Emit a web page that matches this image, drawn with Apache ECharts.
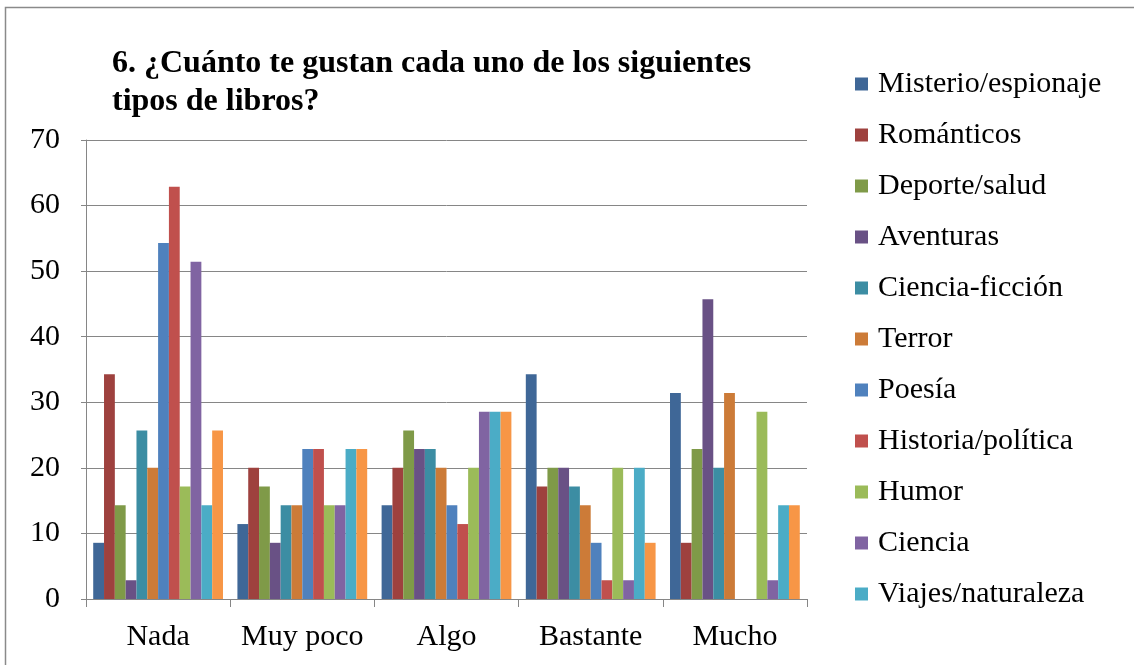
<!DOCTYPE html>
<html>
<head>
<meta charset="utf-8">
<script src="https://cdn.jsdelivr.net/npm/echarts@6/dist/echarts.min.js"></script>
<style>
  html, body { margin: 0; padding: 0; background: #fff; }
  #chart { width: 1134px; height: 665px; }
</style>
</head>
<body>
<div id="chart"></div>
<script>
  // categorías del eje X
  var categorias = ['Nada', 'Muy poco', 'Algo', 'Bastante', 'Mucho'];

  // porcentajes por tipo de libro
  var misterio = [8.57, 11.43, 14.29, 34.29, 31.43];
  var romanticos = [34.29, 20, 20, 17.14, 8.57];
  var deporte = [14.29, 17.14, 25.71, 20, 22.86];
  var aventuras = [2.86, 8.57, 22.86, 20, 45.71];
  var cienciaFiccion = [25.71, 14.29, 22.86, 17.14, 20];
  var terror = [20, 14.29, 20, 14.29, 31.43];
  var poesia = [54.29, 22.86, 14.29, 8.57, 0];
  var historia = [62.86, 22.86, 11.43, 2.86, 0];
  var humor = [17.14, 14.29, 20, 20, 28.57];
  var ciencia = [51.43, 14.29, 28.57, 2.86, 2.86];
  var viajes = [14.29, 22.86, 28.57, 20, 14.29];
  var otros = [25.71, 22.86, 28.57, 8.57, 14.29]; // serie 12, no cabe en la leyenda

  var yTicks = [0, 10, 20, 30, 40, 50, 60, 70];

  var nombres = ['Misterio/espionaje', 'Románticos', 'Deporte/salud', 'Aventuras',
    'Ciencia-ficción', 'Terror', 'Poesía', 'Historia/política', 'Humor', 'Ciencia',
    'Viajes/naturaleza', 'Otros'];
  var datos = [misterio, romanticos, deporte, aventuras, cienciaFiccion, terror,
    poesia, historia, humor, ciencia, viajes, otros];
  var colores = ['#3F6797', '#9E413E', '#7F9A48', '#695185', '#3C8DA3', '#CC7B38',
    '#4F81BD', '#C0504D', '#9BBB59', '#8064A2', '#4BACC6', '#F79646'];

  var fuente = 'Liberation Serif, Times New Roman, serif';

  var series = [];
  for (var i = 0; i < nombres.length; i++) {
    series.push({
      name: nombres[i],
      type: 'bar',
      data: datos[i],
      barGap: '0%',
      barCategoryGap: '10%',
      itemStyle: { color: colores[i] }
    });
  }

  var myChart = echarts.init(document.getElementById('chart'));
  myChart.setOption({
    animation: false,
    color: colores,
    graphic: [{
      type: 'rect',
      shape: { x: 5.5, y: 7.5, width: 1140, height: 680 },
      style: { fill: 'none', stroke: '#8a8a8a', lineWidth: 1.5 },
      silent: true
    }],
    title: {
      text: '6. ¿Cuánto te gustan cada uno de los siguientes\ntipos de libros?',
      left: 107,
      top: 40,
      textStyle: {
        fontFamily: fuente,
        fontWeight: 'bold',
        fontSize: 32,
        lineHeight: 38,
        color: '#000'
      }
    },
    legend: {
      data: nombres.slice(0, 11),
      orient: 'vertical',
      left: 850,
      top: 64,
      itemWidth: 13,
      itemHeight: 13,
      itemGap: 21,
      icon: 'rect',
      textStyle: {
        fontFamily: fuente,
        fontSize: 30,
        lineHeight: 30,
        color: '#000',
        padding: [0, 0, 0, 5]
      }
    },
    grid: {
      left: 86,
      right: 327,
      top: 140,
      bottom: 66
    },
    xAxis: {
      type: 'category',
      data: categorias,
      axisLine: { lineStyle: { color: '#868686', width: 1 } },
      axisTick: { show: true, interval: 0, length: 8, lineStyle: { color: '#868686' } },
      axisLabel: {
        interval: 0,
        fontFamily: fuente,
        fontSize: 30,
        color: '#000',
        margin: 23
      }
    },
    yAxis: {
      type: 'value',
      min: yTicks[0],
      max: yTicks[yTicks.length - 1],
      interval: 10,
      axisLine: { show: true, lineStyle: { color: '#868686', width: 1 } },
      axisTick: { show: true, length: 5, lineStyle: { color: '#868686' } },
      splitLine: { lineStyle: { color: '#868686', width: 1 } },
      axisLabel: {
        fontFamily: fuente,
        fontSize: 30,
        color: '#000',
        margin: 26
      }
    },
    series: series
  });
</script>
</body>
</html>
